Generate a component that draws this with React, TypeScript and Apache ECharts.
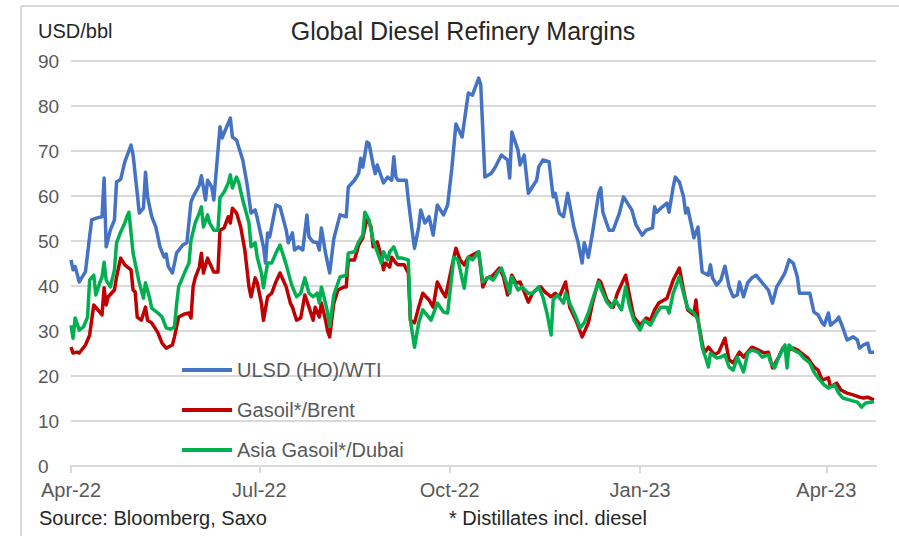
import React, { useEffect, useRef } from "react";
import * as echarts from "echarts";

const MONTHS = ["Jan", "Feb", "Mar", "Apr", "May", "Jun", "Jul", "Aug", "Sep", "Oct", "Nov", "Dec"];
const X_TICKS = ["2022-04-01", "2022-07-01", "2022-10-01", "2023-01-01", "2023-04-01"];
const SERIES_NAMES = ["ULSD (HO)/WTI", "Gasoil*/Brent", "Asia Gasoil*/Dubai"];
const SERIES_COLORS = ["#4472C4", "#C00000", "#00B050"];

const ulsd: [string, number][] = [
  ["2022-04-01",45.8],["2022-04-02",43.6],["2022-04-03",44.3],["2022-04-05",40.9],["2022-04-06",41.7],["2022-04-08",43.2],["2022-04-10",51],["2022-04-11",54.7],["2022-04-14",55.2],["2022-04-16",55.4],["2022-04-17",64],["2022-04-18",48.7],["2022-04-20",52.4],["2022-04-22",54.7],["2022-04-23",63.1],["2022-04-25",63.7],["2022-04-27",67.6],["2022-04-30",71.3],
  ["2022-05-01",69.1],["2022-05-03",60.6],["2022-05-04",56.2],["2022-05-06",57.3],["2022-05-07",65.3],["2022-05-08",59.8],["2022-05-10",55.4],["2022-05-12",53.1],["2022-05-14",48.7],["2022-05-16",46.4],["2022-05-17",47.1],["2022-05-18",44.3],["2022-05-20",42.9],["2022-05-21",45],["2022-05-22",47.3],["2022-05-25",49.1],["2022-05-27",49.6],["2022-05-29",58.7],["2022-05-30",59.8],
  ["2022-06-02",62.4],["2022-06-03",64.5],["2022-06-05",59.1],["2022-06-06",63.5],["2022-06-08",62],["2022-06-09",59.1],["2022-06-12",75.4],["2022-06-13",72.9],["2022-06-15",75.1],["2022-06-17",77.3],["2022-06-18",73.1],["2022-06-20",72.4],["2022-06-23",68],["2022-06-25",62.9],["2022-06-27",56.2],["2022-06-29",56.9],["2022-06-30",55.1],
  ["2022-07-03",48.7],["2022-07-04",45.1],["2022-07-05",51.8],["2022-07-06",50.9],["2022-07-09",58],["2022-07-11",57.6],["2022-07-14",52.4],["2022-07-15",49.6],["2022-07-17",51.8],["2022-07-18",48],["2022-07-20",48.7],["2022-07-22",48],["2022-07-24",55.8],["2022-07-25",50.9],["2022-07-27",49.8],["2022-07-29",49.6],["2022-07-30",48],["2022-07-31",52.9],
  ["2022-08-02",47.3],["2022-08-04",42.9],["2022-08-06",50.5],["2022-08-09",55.8],["2022-08-12",55.4],["2022-08-13",62],["2022-08-16",63.5],["2022-08-18",65],["2022-08-19",68.4],["2022-08-20",66.4],["2022-08-22",72],["2022-08-23",71.7],["2022-08-25",66.9],["2022-08-26",65],["2022-08-27",66.9],["2022-08-30",62.9],
  ["2022-09-01",64.2],["2022-09-03",63.5],["2022-09-04",68.7],["2022-09-05",64.2],["2022-09-06",63.5],["2022-09-10",63.5],["2022-09-11",59.1],["2022-09-13",51.8],["2022-09-14",48.4],["2022-09-16",53.1],["2022-09-17",56.9],["2022-09-19",54],["2022-09-21",55.4],["2022-09-23",51.3],["2022-09-25",58],["2022-09-28",55.8],["2022-09-30",58],
  ["2022-10-02",66],["2022-10-04",76],["2022-10-07",73.1],["2022-10-10",82.9],["2022-10-12",82.4],["2022-10-15",86.2],["2022-10-16",84.7],["2022-10-18",64.2],["2022-10-21",65],["2022-10-23",66.4],["2022-10-26",69.1],["2022-10-29",68],["2022-10-30",64],["2022-10-31",74.2],
  ["2022-11-03",70.2],["2022-11-04",66.9],["2022-11-06",69.1],["2022-11-08",60.6],["2022-11-12",63.5],["2022-11-13",66.4],["2022-11-15",68],["2022-11-18",67.6],["2022-11-20",59.8],["2022-11-21",60.6],["2022-11-23",56.2],["2022-11-25",55.4],["2022-11-27",60.6],["2022-11-30",53.1],
  ["2022-12-02",49.8],["2022-12-04",45.1],["2022-12-05",49.6],["2022-12-07",46.4],["2022-12-09",51.8],["2022-12-12",60.6],["2022-12-13",61.8],["2022-12-14",56.4],["2022-12-17",52.4],["2022-12-19",52.4],["2022-12-22",56.2],["2022-12-24",59.8],["2022-12-28",56.9],["2022-12-30",53.6],
  ["2023-01-02",51.3],["2023-01-04",52.4],["2023-01-07",52.9],["2023-01-08",57.6],["2023-01-09",56.4],["2023-01-11",57.3],["2023-01-14",58.4],["2023-01-15",56.4],["2023-01-17",62],["2023-01-18",64.2],["2023-01-20",63.1],["2023-01-22",59.8],["2023-01-23",56.2],["2023-01-24",57.3],["2023-01-26",53.1],["2023-01-27",50.7],["2023-01-29",53.1],["2023-01-30",48],["2023-01-31",43.1],
  ["2023-02-03",42.4],["2023-02-04",44.7],["2023-02-05",41.8],["2023-02-07",40.2],["2023-02-09",41.3],["2023-02-11",44.4],["2023-02-13",39.8],["2023-02-15",37.6],["2023-02-17",38],["2023-02-18",40.9],["2023-02-20",37.6],["2023-02-22",40.7],["2023-02-24",41.8],["2023-02-26",42.4],["2023-02-28",41.3],
  ["2023-03-02",40.2],["2023-03-04",39.1],["2023-03-06",36.2],["2023-03-08",39.8],["2023-03-10",41.3],["2023-03-12",42.9],["2023-03-14",45.8],["2023-03-16",45.1],["2023-03-18",42],["2023-03-19",38.4],["2023-03-22",38.4],["2023-03-24",38.4],["2023-03-26",34.2],["2023-03-28",33.6],["2023-03-30",31.8],["2023-03-31",31.3],
  ["2023-04-02",34],["2023-04-03",31.3],["2023-04-06",32.4],["2023-04-07",33.1],["2023-04-09",30.7],["2023-04-11",28],["2023-04-14",28.7],["2023-04-16",28],["2023-04-17",26.2],["2023-04-19",26.9],["2023-04-21",27.3],["2023-04-22",25.3],["2023-04-24",25.3],
];

const gasoilBrent: [string, number][] = [
  ["2022-04-01",26.4],["2022-04-02",25.1],["2022-04-04",25.3],["2022-04-05",25.1],["2022-04-08",26.9],["2022-04-10",29.1],["2022-04-12",35.8],["2022-04-14",34.7],["2022-04-16",33.6],["2022-04-17",39.6],["2022-04-18",35.8],["2022-04-19",37.6],["2022-04-22",39.1],["2022-04-23",42],["2022-04-25",46.2],["2022-04-27",44.7],["2022-04-30",43.6],
  ["2022-05-01",39.1],["2022-05-02",38.7],["2022-05-03",33.1],["2022-05-05",32.4],["2022-05-07",35.3],["2022-05-08",32.4],["2022-05-10",31.8],["2022-05-13",29.6],["2022-05-15",27.3],["2022-05-17",26.2],["2022-05-20",26.9],["2022-05-21",28.7],["2022-05-23",33.1],["2022-05-26",33.8],["2022-05-28",34],["2022-05-29",32.9],["2022-05-30",39.8],["2022-05-31",41.8],
  ["2022-06-02",44.2],["2022-06-03",47.3],["2022-06-04",42.9],["2022-06-06",46.2],["2022-06-07",45.1],["2022-06-09",43.1],["2022-06-11",43.1],["2022-06-12",52.4],["2022-06-14",52.9],["2022-06-16",55.4],["2022-06-17",54],["2022-06-18",57.3],["2022-06-20",56.2],["2022-06-22",53.1],["2022-06-24",48],["2022-06-26",39.8],["2022-06-27",37.6],["2022-06-29",41.8],["2022-06-30",40.7],
  ["2022-07-02",36.2],["2022-07-03",32.4],["2022-07-05",37.6],["2022-07-07",38.4],["2022-07-09",40.9],["2022-07-11",42.9],["2022-07-14",39.8],["2022-07-16",36.2],["2022-07-17",35.3],["2022-07-19",32.4],["2022-07-21",32.9],["2022-07-23",38],["2022-07-25",35.3],["2022-07-27",32.4],["2022-07-28",35.3],["2022-07-30",33.1],["2022-07-31",36.2],
  ["2022-08-02",32.4],["2022-08-03",30],["2022-08-04",28.7],["2022-08-06",36.2],["2022-08-08",39.1],["2022-08-11",39.8],["2022-08-12",39.8],["2022-08-13",45.8],["2022-08-16",45.8],["2022-08-18",49.1],["2022-08-20",50.7],["2022-08-22",55.1],["2022-08-24",53.1],["2022-08-25",48.7],["2022-08-27",49.8],["2022-08-29",46.4],["2022-08-30",43.6],["2022-08-31",45.1],
  ["2022-09-02",44.2],["2022-09-03",46.4],["2022-09-05",45.1],["2022-09-06",44.7],["2022-09-09",44.7],["2022-09-11",42.9],["2022-09-12",32.4],["2022-09-14",31.8],["2022-09-16",35.3],["2022-09-18",38.4],["2022-09-21",36.9],["2022-09-23",35.3],["2022-09-25",40.9],["2022-09-27",39.1],["2022-09-29",37.6],
  ["2022-10-02",44.2],["2022-10-04",48.4],["2022-10-06",45.8],["2022-10-08",44.7],["2022-10-10",46.4],["2022-10-12",46.9],["2022-10-15",47.6],["2022-10-17",39.8],["2022-10-19",41.8],["2022-10-21",42],["2022-10-23",42.9],["2022-10-25",44],["2022-10-27",42],["2022-10-29",38],["2022-10-31",42.4],
  ["2022-11-02",40.7],["2022-11-04",40.9],["2022-11-06",38.7],["2022-11-08",36.4],["2022-11-10",38.4],["2022-11-13",39.6],["2022-11-14",39.8],["2022-11-16",38.7],["2022-11-19",37.6],["2022-11-21",38.4],["2022-11-23",37.6],["2022-11-26",40.9],["2022-11-28",35.3],
  ["2022-12-01",32.4],["2022-12-04",28.7],["2022-12-07",31.8],["2022-12-09",36.2],["2022-12-12",41.3],["2022-12-13",40.9],["2022-12-16",36.9],["2022-12-19",35.3],["2022-12-21",38.4],["2022-12-25",42.4],["2022-12-27",37.6],["2022-12-29",33.1],
  ["2023-01-01",31.3],["2023-01-04",32.9],["2023-01-06",32.4],["2023-01-08",34.7],["2023-01-10",36.2],["2023-01-14",37.3],["2023-01-17",41.3],["2023-01-20",44],["2023-01-22",39.1],["2023-01-24",34.7],["2023-01-27",33.6],["2023-01-28",36.9],["2023-01-29",32.4],["2023-01-31",27.3],
  ["2023-02-01",25.1],["2023-02-03",26.4],["2023-02-06",24.7],["2023-02-08",25.3],["2023-02-11",28.4],["2023-02-13",23.6],["2023-02-15",22.9],["2023-02-18",25.3],["2023-02-20",24.2],["2023-02-24",26.4],["2023-02-27",25.8],
  ["2023-03-02",25.1],["2023-03-04",25.3],["2023-03-06",21.8],["2023-03-09",24.2],["2023-03-11",26.2],["2023-03-14",25.8],["2023-03-16",26.2],["2023-03-18",25.8],["2023-03-21",24.7],["2023-03-23",24],["2023-03-26",22],["2023-03-28",21.3],["2023-03-30",19.1],
  ["2023-04-02",19.6],["2023-04-03",17.6],["2023-04-06",18.4],["2023-04-08",16.9],["2023-04-11",16.2],["2023-04-14",15.8],["2023-04-17",15.3],["2023-04-19",15.1],["2023-04-21",15.3],["2023-04-24",14.7],
];

const asiaGasoilDubai: [string, number][] = [
  ["2022-04-01",31.3],["2022-04-02",28.4],["2022-04-03",32.9],["2022-04-05",30.2],["2022-04-07",30.9],["2022-04-09",33.1],["2022-04-10",41.3],["2022-04-12",42.4],["2022-04-13",38],["2022-04-15",40.9],["2022-04-16",42],["2022-04-17",45.3],["2022-04-18",41.3],["2022-04-20",39.8],["2022-04-22",43.6],["2022-04-23",49.6],["2022-04-25",52],["2022-04-27",54],["2022-04-28",55.4],["2022-04-29",56.4],
  ["2022-05-01",47.3],["2022-05-02",45.1],["2022-05-04",40.7],["2022-05-06",37.3],["2022-05-07",40.7],["2022-05-09",37.3],["2022-05-10",35.1],["2022-05-13",34],["2022-05-15",33.1],["2022-05-17",30.7],["2022-05-19",30.4],["2022-05-21",30.9],["2022-05-22",35.8],["2022-05-23",39.8],["2022-05-26",43.1],["2022-05-28",45.1],["2022-05-29",50.2],["2022-05-31",54],
  ["2022-06-02",56.2],["2022-06-03",57.6],["2022-06-04",53.1],["2022-06-06",55.8],["2022-06-07",54],["2022-06-09",52.4],["2022-06-11",52.4],["2022-06-12",59.6],["2022-06-14",60.9],["2022-06-16",62.9],["2022-06-17",64.7],["2022-06-18",61.8],["2022-06-20",64.2],["2022-06-21",63.1],["2022-06-23",59.1],["2022-06-26",54],["2022-06-27",48.7],["2022-06-29",49.6],["2022-06-30",46.4],
  ["2022-07-02",42.9],["2022-07-03",39.6],["2022-07-05",45.1],["2022-07-07",45.1],["2022-07-09",47.3],["2022-07-11",49.1],["2022-07-14",44.7],["2022-07-16",41.3],["2022-07-17",39.8],["2022-07-19",37.6],["2022-07-21",38.4],["2022-07-23",41.8],["2022-07-25",38.4],["2022-07-27",37.6],["2022-07-29",38.4],["2022-07-30",36.2],["2022-07-31",39.8],
  ["2022-08-02",36.2],["2022-08-03",34],["2022-08-04",31],["2022-08-06",38],["2022-08-09",42],["2022-08-12",42.4],["2022-08-13",47.3],["2022-08-16",47.6],["2022-08-18",49.8],["2022-08-20",51.3],["2022-08-21",56.4],["2022-08-23",54.7],["2022-08-25",50.2],["2022-08-27",47.6],["2022-08-29",45.1],["2022-08-30",47.6],
  ["2022-09-01",45.8],["2022-09-02",47.6],["2022-09-04",48.7],["2022-09-06",46.2],["2022-09-08",46.2],["2022-09-11",45.8],["2022-09-12",32.4],["2022-09-14",26.4],["2022-09-16",31.8],["2022-09-18",34.7],["2022-09-22",32.4],["2022-09-25",36.2],["2022-09-28",34.2],["2022-09-30",34],
  ["2022-10-03",46.4],["2022-10-05",45.8],["2022-10-08",39.5],["2022-10-10",46.4],["2022-10-12",45.8],["2022-10-15",47.6],["2022-10-17",40.9],["2022-10-20",42],["2022-10-22",41.3],["2022-10-24",42.9],["2022-10-26",44],["2022-10-28",41.3],["2022-10-30",38.4],["2022-10-31",42],
  ["2022-11-03",39.1],["2022-11-05",39.8],["2022-11-08",38.4],["2022-11-10",38.4],["2022-11-13",39.8],["2022-11-15",37.6],["2022-11-17",34],["2022-11-19",29.1],["2022-11-20",36.9],["2022-11-22",38],["2022-11-25",36.2],["2022-11-26",38.4],["2022-11-28",36.2],
  ["2022-12-01",33.1],["2022-12-03",30.7],["2022-12-05",31.8],["2022-12-07",34],["2022-12-10",38.4],["2022-12-12",40.9],["2022-12-13",39.5],["2022-12-16",36.4],["2022-12-18",35.3],["2022-12-20",36.9],["2022-12-23",34.7],["2022-12-25",39.8],["2022-12-27",35.3],["2022-12-29",32.4],
  ["2023-01-01",30.2],["2023-01-03",32.4],["2023-01-06",31.3],["2023-01-09",34],["2023-01-11",35.3],["2023-01-14",35.3],["2023-01-15",34],["2023-01-17",38.4],["2023-01-20",42],["2023-01-22",38.4],["2023-01-24",35.1],["2023-01-27",34],["2023-01-29",32.4],["2023-01-31",26.4],
  ["2023-02-02",23.6],["2023-02-03",22],["2023-02-04",25.1],["2023-02-07",24],["2023-02-09",24.2],["2023-02-11",24.7],["2023-02-13",22],["2023-02-15",21.3],["2023-02-17",24.2],["2023-02-20",20.9],["2023-02-22",25.1],["2023-02-24",25.8],["2023-02-27",25.3],
  ["2023-03-01",24.2],["2023-03-04",24.7],["2023-03-05",23.1],["2023-03-07",21.8],["2023-03-09",24.2],["2023-03-12",26.9],["2023-03-13",21.8],["2023-03-14",26.9],["2023-03-16",25.8],["2023-03-19",25.1],["2023-03-21",24],["2023-03-24",22.9],["2023-03-26",20.9],["2023-03-28",19.6],["2023-03-31",18],
  ["2023-04-02",17.3],["2023-04-05",18],["2023-04-07",16.2],["2023-04-09",15.1],["2023-04-12",14.7],["2023-04-16",14.2],["2023-04-18",13.1],["2023-04-20",14],["2023-04-23",14.2],["2023-04-24",14.2],
];

const SERIES_DATA = [ulsd, gasoilBrent, asiaGasoilDubai];
const FONT = "'Liberation Sans', Arial, sans-serif";
const toTime = (s: string) => new Date(s + "T00:00:00").getTime();
const X_MIN = "2022-04-01";
const X_MAX = "2023-04-25";

export default function App() {
  const ref = useRef<HTMLDivElement>(null);
  useEffect(() => {
    document.body.style.margin = "0";
    const chart = echarts.init(ref.current!, null, { renderer: "svg" });
    const tickValues = X_TICKS.map(toTime);
    chart.setOption({
      animation: false,
      backgroundColor: "#ffffff",
      textStyle: { fontFamily: FONT },
      grid: { left: 71, right: 23, top: 61, bottom: 70, containLabel: false },
      legend: {
        orient: "vertical",
        left: 177,
        top: 353,
        icon: "rect",
        itemWidth: 50,
        itemHeight: 4,
        itemGap: 16,
        data: SERIES_NAMES,
        textStyle: { fontFamily: FONT, fontSize: 20, color: "#595959", lineHeight: 24 },
      },
      xAxis: [
        {
          type: "time",
          min: toTime(X_MIN),
          max: toTime(X_MAX),
          axisLine: { show: true, lineStyle: { color: "#d9d9d9", width: 2 } },
          axisTick: { show: false },
          axisLabel: { show: false },
          splitLine: { show: false },
        },
        {
          type: "value",
          position: "bottom",
          min: toTime(X_MIN),
          max: toTime(X_MAX),
          axisLine: { show: false },
          splitLine: { show: false },
          axisTick: { show: true, length: 7, customValues: tickValues, lineStyle: { color: "#d9d9d9", width: 2 } },
          axisLabel: {
            fontFamily: FONT,
            fontSize: 20,
            color: "#595959",
            margin: 14,
            customValues: tickValues,
            formatter: (v: number) => {
              const d = new Date(v);
              return MONTHS[d.getMonth()] + "-" + String(d.getFullYear()).slice(2);
            },
          },
        },
      ],
      yAxis: {
        type: "value",
        min: 0,
        max: 90,
        interval: 10,
        axisLine: { show: false },
        axisTick: { show: false },
        splitLine: { lineStyle: { color: "#d9d9d9", width: 2 } },
        axisLabel: { fontFamily: FONT, fontSize: 19, color: "#595959", align: "left", margin: 33 },
      },
      series: SERIES_NAMES.map((name, i) => ({
        name,
        type: "line",
        xAxisIndex: 0,
        data: SERIES_DATA[i],
        showSymbol: false,
        symbol: "none",
        color: SERIES_COLORS[i],
        lineStyle: { color: SERIES_COLORS[i], width: 3.5, join: "round" },
        z: 2 + i,
      })),
      graphic: [
        { type: "line", shape: { x1: 21, y1: 6, x2: 899, y2: 6 }, style: { stroke: "#d9d9d9", lineWidth: 2 }, silent: true },
        { type: "line", shape: { x1: 21, y1: 6, x2: 21, y2: 536 }, style: { stroke: "#d9d9d9", lineWidth: 2 }, silent: true },
        { type: "text", x: 38, y: 31, style: { text: "USD/bbl", fontFamily: FONT, fontSize: 20, fill: "#262626", textAlign: "left", textVerticalAlign: "middle" } },
        { type: "text", x: 463, y: 31, style: { text: "Global Diesel Refinery Margins", fontFamily: FONT, fontSize: 25, fill: "#262626", textAlign: "center", textVerticalAlign: "middle" } },
        { type: "text", x: 39, y: 518, style: { text: "Source: Bloomberg, Saxo", fontFamily: FONT, fontSize: 20, fill: "#262626", textAlign: "left", textVerticalAlign: "middle" } },
        { type: "text", x: 449, y: 518, style: { text: "* Distillates incl. diesel", fontFamily: FONT, fontSize: 20, fill: "#262626", textAlign: "left", textVerticalAlign: "middle" } },
      ],
    });
    return () => chart.dispose();
  }, []);
  return <div ref={ref} style={{ width: 899, height: 536 }} />;
}
